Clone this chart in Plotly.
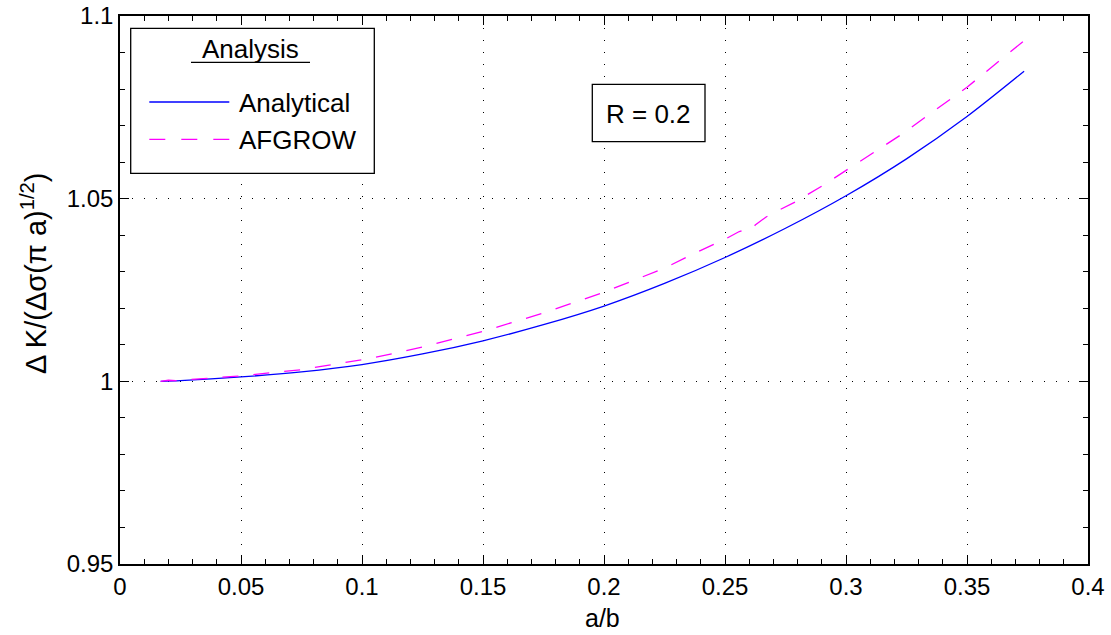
import plotly.graph_objects as go

# ---------------- data ----------------
analytical_x = [0.0168, 0.025, 0.05, 0.075, 0.10, 0.125, 0.15, 0.175, 0.20, 0.225,
                0.25, 0.275, 0.30, 0.325, 0.35, 0.3736]
analytical_y = [1.0000, 1.0002, 1.0012, 1.0026, 1.0046, 1.0075, 1.0111, 1.0155, 1.0206, 1.0268,
                1.0339, 1.0419, 1.0508, 1.0609, 1.0725, 1.0849]

afgrow_x = [0.0168, 0.020, 0.023, 0.030, 0.050, 0.056, 0.059, 0.075, 0.100, 0.113, 0.125,
            0.150, 0.175, 0.200, 0.225, 0.2376, 0.250, 0.2559, 0.2585, 0.2610, 0.2625,
            0.267, 0.2727, 0.279, 0.2904, 0.3012, 0.3067, 0.3223, 0.350, 0.3705, 0.3735]
afgrow_y = [1.0000, 1.0003, 1.0002, 1.0005, 1.0015, 1.0019, 1.0021, 1.0032, 1.0059, 1.0076, 1.0094,
            1.0137, 1.0187, 1.0244, 1.0310, 1.0351, 1.0389, 1.0410, 1.0416, 1.0416, 1.0428,
            1.0450, 1.0470, 1.0491, 1.0536, 1.0582, 1.0605, 1.0673, 1.0805, 1.0917, 1.0932]

x_ticks = [0, 0.05, 0.1, 0.15, 0.2, 0.25, 0.3, 0.35, 0.4]
y_ticks = [0.95, 1.0, 1.05, 1.1]

legend_title = "Analysis"
series_names = ["Analytical", "AFGROW"]
note_text = "R = 0.2"
x_title = "a/b"
y_title = "\u0394 K/(\u0394\u03c3(\u03c0 a)<sup>1/2</sup>)"

# ---------------- layout geometry (pixels) ----------------
W, H = 1111, 635
L, R, T, B = 120, 23, 16, 71
X0, X1 = 0.0, 0.4
Y0, Y1 = 0.95, 1.1
PW, PH = W - L - R, H - T - B


def px2x(px):
    return X0 + (px - L) / PW * (X1 - X0)


def py2y(py):
    return Y1 - (py - T) / PH * (Y1 - Y0)


FONT = "Liberation Sans, Arial, Helvetica, sans-serif"
BLUE = "#0000ff"
MAGENTA = "#ff00ff"

fig = go.Figure()
fig.add_trace(go.Scatter(x=analytical_x, y=analytical_y, mode="lines", name=series_names[0],
                         line=dict(color=BLUE, width=1.3, shape="spline", smoothing=0.8),
                         showlegend=False))
fig.add_trace(go.Scatter(x=afgrow_x, y=afgrow_y, mode="lines", name=series_names[1],
                         line=dict(color=MAGENTA, width=1.3, dash="16px,15px"),
                         showlegend=False))

axis_common = dict(
    showline=True, linecolor="black", linewidth=1.5, mirror="ticks",
    ticks="inside", ticklen=9, tickwidth=1, tickcolor="black",
    showgrid=True, gridcolor="black", gridwidth=1, griddash="1px,11px",
    zeroline=False, automargin=False,
    tickfont=dict(family=FONT, size=24, color="black"),
)

fig.update_xaxes(range=[X0, X1], tickvals=x_ticks,
                 ticktext=[f"{v:g}" for v in x_ticks],
                 minor=dict(dtick=0.01, ticks="inside", ticklen=5, tickcolor="black", showgrid=False),
                 **axis_common)
fig.update_yaxes(range=[Y0, Y1], tickvals=y_ticks,
                 ticktext=[f"{v:g}" for v in y_ticks],
                 minor=dict(dtick=0.01, ticks="inside", ticklen=5, tickcolor="black", showgrid=False),
                 **axis_common)

shapes = []
annotations = []

# legend box
shapes.append(dict(type="rect", xref="x", yref="y",
                   x0=px2x(130.7), x1=px2x(374.3), y0=py2y(28.3), y1=py2y(173.3),
                   line=dict(color="black", width=1.3), fillcolor="white", layer="above"))
# legend title underline
shapes.append(dict(type="line", xref="x", yref="y",
                   x0=px2x(191), x1=px2x(310), y0=py2y(62.3), y1=py2y(62.3),
                   line=dict(color="black", width=1.3), layer="above"))
# legend samples
shapes.append(dict(type="line", xref="x", yref="y",
                   x0=px2x(149.3), x1=px2x(229.3), y0=py2y(102), y1=py2y(102),
                   line=dict(color=BLUE, width=1.3), layer="above"))
shapes.append(dict(type="line", xref="x", yref="y",
                   x0=px2x(149.3), x1=px2x(229.3), y0=py2y(139.3), y1=py2y(139.3),
                   line=dict(color=MAGENTA, width=1.3, dash="16px,16px"), layer="above"))
annotations.append(dict(xref="x", yref="y", x=px2x(250), y=py2y(49), text=legend_title,
                        showarrow=False, xanchor="center", yanchor="middle",
                        font=dict(family=FONT, size=26, color="black")))
annotations.append(dict(xref="x", yref="y", x=px2x(237), y=py2y(103), text=series_names[0],
                        showarrow=False, xanchor="left", yanchor="middle",
                        font=dict(family=FONT, size=26, color="black")))
annotations.append(dict(xref="x", yref="y", x=px2x(237), y=py2y(140), text=series_names[1],
                        showarrow=False, xanchor="left", yanchor="middle",
                        font=dict(family=FONT, size=26, color="black")))

# R = 0.2 box
shapes.append(dict(type="rect", xref="x", yref="y",
                   x0=px2x(592.3), x1=px2x(705), y0=py2y(84.3), y1=py2y(141.7),
                   line=dict(color="black", width=1.3), fillcolor="white", layer="above"))
annotations.append(dict(xref="x", yref="y", x=px2x(648.5), y=py2y(114), text=note_text,
                        showarrow=False, xanchor="center", yanchor="middle",
                        font=dict(family=FONT, size=26, color="black")))

# axis titles
annotations.append(dict(xref="paper", yref="paper", x=(602 - L) / PW, y=(H - B - 618) / PH,
                        text=x_title, showarrow=False, xanchor="center", yanchor="middle",
                        font=dict(family=FONT, size=25, color="black")))
annotations.append(dict(xref="paper", yref="paper", x=(34 - L) / PW, y=(H - B - 273) / PH,
                        text=y_title, showarrow=False, xanchor="center", yanchor="middle",
                        textangle=-90,
                        font=dict(family=FONT, size=29, color="black")))

fig.update_layout(
    width=W, height=H,
    margin=dict(l=L, r=R, t=T, b=B, pad=0),
    paper_bgcolor="white", plot_bgcolor="white",
    shapes=shapes, annotations=annotations,
    showlegend=False,
)

fig.write_html("out.html")
